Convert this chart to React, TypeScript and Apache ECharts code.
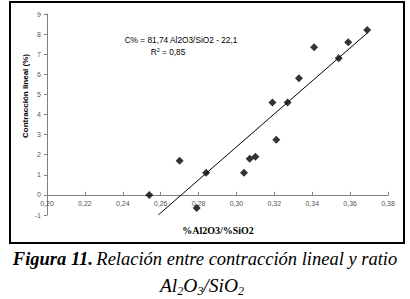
import React, { useEffect, useRef } from "react";
import * as echarts from "echarts";

const ratioX = [0.254, 0.270, 0.279, 0.284, 0.304, 0.307, 0.310, 0.321, 0.319, 0.327, 0.333, 0.341, 0.354, 0.359, 0.369];
const contraction = [0.0, 1.7, -0.65, 1.1, 1.1, 1.8, 1.9, 2.75, 4.6, 4.6, 5.8, 7.35, 6.8, 7.6, 8.2];
const trendX = [0.2587, 0.369];
const trendY = [-1.0, 8.05];
const equationText = "C% = 81,74 Al2O3/SiO2 - 22,1";
const xTitle = "%Al2O3/%SiO2";
const yTitle = "Contracción lineal (%)";

export default function App() {
  const ref = useRef<HTMLDivElement>(null);
  useEffect(() => {
    if (!ref.current) return;
    const chart = echarts.init(ref.current, undefined, { renderer: "svg" });
    const axisGray = "#808080";
    const labelGray = "#555";
    const gridTop = 14;
    const gridBottom = 84;
    const plotH = 299 - gridTop - gridBottom;
    chart.setOption({
      animation: false,
      grid: { left: 47, right: 22, top: gridTop, bottom: gridBottom, containLabel: false },
      xAxis: {
        type: "value",
        min: 0.2,
        max: 0.38,
        interval: 0.02,
        offset: -plotH / 10,
        axisLine: { onZero: false, lineStyle: { color: axisGray, width: 1 } },
        axisTick: { inside: true, length: 3, lineStyle: { color: axisGray } },
        axisLabel: {
          color: labelGray,
          fontSize: 7,
          fontFamily: "Liberation Sans",
          margin: 5,
          formatter: (v: number) => v.toFixed(2).replace(".", ","),
        },
        splitLine: { show: false },
      },
      yAxis: {
        type: "value",
        min: -1,
        max: 9,
        interval: 1,
        axisLine: { show: true, lineStyle: { color: axisGray, width: 1 } },
        axisTick: { show: true, length: 3, lineStyle: { color: axisGray } },
        axisLabel: { color: labelGray, fontSize: 7, fontFamily: "Liberation Sans", margin: 6 },
        splitLine: { show: false },
      },
      series: [
        {
          type: "line",
          data: trendX.map((x, i) => [x, trendY[i]]),
          showSymbol: false,
          symbol: "none",
          lineStyle: { color: "#000", width: 1 },
          z: 2,
        },
        {
          type: "scatter",
          data: ratioX.map((x, i) => [x, contraction[i]]),
          symbol: "diamond",
          symbolSize: 8,
          itemStyle: { color: "#000" },
          z: 3,
        },
      ],
      graphic: [
        {
          type: "rect",
          shape: { x: 10, y: 2, width: 394, height: 241 },
          style: { fill: "none", stroke: "#000", lineWidth: 2 },
          silent: true,
        },
        {
          type: "text",
          x: 181,
          y: 40,
          style: {
            text: equationText,
            fill: "#000",
            font: "8.3px 'Liberation Sans'",
            align: "center",
            verticalAlign: "middle",
          },
        },
        {
          type: "text",
          x: 168,
          y: 52,
          style: {
            text: "R{s|2} = 0,85",
            fill: "#000",
            font: "8.3px 'Liberation Sans'",
            align: "center",
            verticalAlign: "middle",
            rich: { s: { fontSize: 5.5, verticalAlign: "top", padding: [0, 0, 4, 0], fontFamily: "Liberation Sans" } },
          },
        },
        {
          type: "text",
          x: 25,
          y: 96,
          rotation: Math.PI / 2,
          style: {
            text: yTitle,
            fill: "#000",
            font: "bold 8px 'Liberation Sans'",
            align: "center",
            verticalAlign: "middle",
          },
        },
        {
          type: "text",
          x: 218,
          y: 230,
          style: {
            text: xTitle,
            fill: "#000",
            font: "bold 10px 'Liberation Serif'",
            align: "center",
            verticalAlign: "middle",
          },
        },
        {
          type: "text",
          x: 205,
          y: 259,
          style: {
            text: "{b|Figura 11.} {i|Relación entre contracción lineal y ratio}",
            align: "center",
            verticalAlign: "middle",
            rich: {
              b: { font: "italic bold 18.5px 'Liberation Serif'", fill: "#000" },
              i: { font: "italic 18.5px 'Liberation Serif'", fill: "#000" },
            },
          },
        },
        {
          type: "text",
          x: 202,
          y: 285,
          style: {
            text: "{i|Al}{s|2}{i|O}{s|3}{i|/SiO}{s|2}",
            align: "center",
            verticalAlign: "middle",
            rich: {
              i: { font: "italic 19.5px 'Liberation Serif'", fill: "#000", height: 24 },
              s: { font: "italic 12px 'Liberation Serif'", fill: "#000", height: 24, padding: [11, 0, 0, 0] },
            },
          },
        },
      ],
    });
    return () => chart.dispose();
  }, []);
  return (
    <div
      ref={ref}
      style={{ position: "absolute", left: 0, top: 0, width: 410, height: 299, background: "#fff" }}
    />
  );
}
